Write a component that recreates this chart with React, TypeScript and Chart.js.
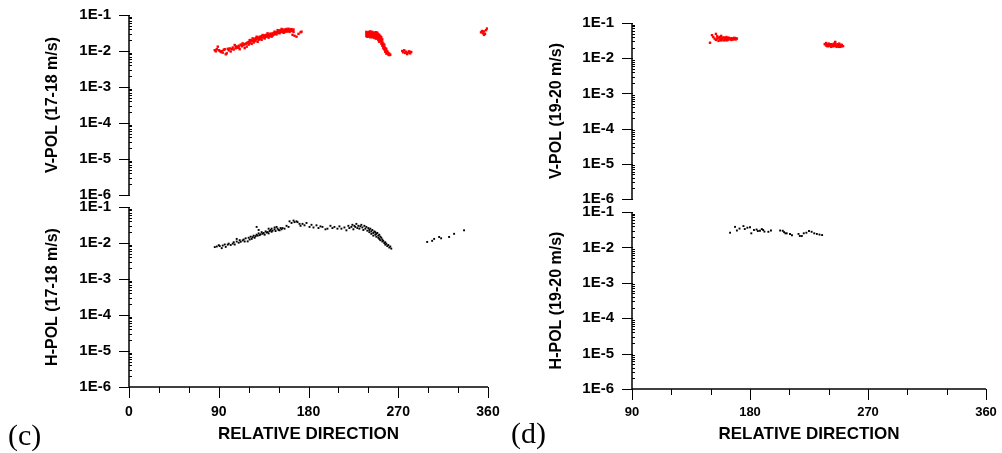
import React, { useEffect, useRef } from 'react';
import { Chart, registerables } from 'chart.js';

Chart.register(...registerables);

// ---------- tick definitions ----------
const Y_DECADES = [1e-6, 1e-5, 1e-4, 1e-3, 1e-2, 1e-1];
const Y_LABELS = ['1E-6', '1E-5', '1E-4', '1E-3', '1E-2', '1E-1'];
const Y_MINOR_MULT = [2, 3, 4, 5, 6, 7, 8, 9];

const X_TICKS_C = [0, 30, 60, 90, 120, 150, 180, 210, 240, 270, 300, 330, 360];
const X_TICKS_D = [90, 120, 150, 180, 210, 240, 270, 300, 330, 360];
const X_LABEL_VALUES = [0, 90, 180, 270, 360];
const X_LABELS = ['0', '90', '180', '270', '360'];

// ---------- data: [relative direction, value] ----------
const V_POL_17_18: number[][] = [
  [86, 0.0105], [87, 0.0098], [88, 0.0112], [89, 0.0132], [91, 0.0101], [92, 0.0094], [94, 0.009], [95, 0.0108],
  [97, 0.0081], [98, 0.0086], [99, 0.0115], [100, 0.0104], [101, 0.0118], [102, 0.0097], [104, 0.0125], [105, 0.011],
  [106, 0.0147], [107, 0.0119], [108, 0.0131], [109, 0.0123], [110, 0.014], [111, 0.0112], [112, 0.015], [113, 0.0135],
  [114, 0.0163], [115, 0.0144], [116, 0.012], [117, 0.0158], [118, 0.0132], [119, 0.0172], [120, 0.015], [121, 0.02],
  [121, 0.0168], [122, 0.0184], [123, 0.0158], [124, 0.0225], [124, 0.019], [125, 0.0172], [126, 0.021], [127, 0.0195],
  [128, 0.025], [128, 0.0218], [129, 0.018], [130, 0.0232], [131, 0.0215], [132, 0.0245], [133, 0.0205], [134, 0.0278],
  [134, 0.0238], [135, 0.026], [136, 0.0222], [137, 0.027], [138, 0.0248], [139, 0.031], [139, 0.0265], [140, 0.0235],
  [141, 0.029], [142, 0.0275], [143, 0.025], [144, 0.0305], [145, 0.0285], [146, 0.0345], [146, 0.03], [147, 0.032],
  [148, 0.029], [149, 0.038], [149, 0.033], [150, 0.035], [151, 0.031], [152, 0.0365], [153, 0.041], [153, 0.034],
  [154, 0.0375], [155, 0.032], [156, 0.036], [157, 0.0395], [158, 0.0345], [159, 0.038], [160, 0.0415], [161, 0.038],
  [161, 0.034], [162, 0.04], [163, 0.036], [164, 0.028], [165, 0.0395], [166, 0.0265], [168, 0.025], [170, 0.03],
  [172, 0.033], [173, 0.0345],
  [90, 0.0105], [93, 0.0099], [96, 0.0112], [103, 0.0113], [107, 0.0134], [110, 0.0126], [113, 0.0148], [116, 0.0155],
  [118, 0.0165], [120, 0.0178], [122, 0.0202], [123, 0.0192], [125, 0.0205], [126, 0.0188], [127, 0.0228], [129, 0.0235],
  [130, 0.0205], [131, 0.0248], [132, 0.0225], [133, 0.0258], [135, 0.0242], [136, 0.0272], [137, 0.0245], [138, 0.0285],
  [140, 0.0275], [141, 0.0258], [142, 0.0305], [143, 0.0282], [144, 0.0268], [145, 0.0318], [147, 0.0295], [148, 0.0335],
  [150, 0.0318], [151, 0.0375], [152, 0.0335], [154, 0.0345], [155, 0.0395], [156, 0.0335], [157, 0.0365], [158, 0.041],
  [159, 0.0355], [160, 0.0365], [162, 0.0375], [163, 0.0405], [164, 0.037], [165, 0.034],
  [238, 0.03], [238, 0.026], [239, 0.032], [239, 0.028], [240, 0.025], [240, 0.03], [241, 0.034], [241, 0.027],
  [242, 0.031], [242, 0.024], [243, 0.029], [243, 0.033], [244, 0.027], [244, 0.03], [245, 0.025], [245, 0.032],
  [246, 0.028], [246, 0.023], [247, 0.03], [247, 0.026], [248, 0.033], [248, 0.028], [248, 0.022], [249, 0.026],
  [249, 0.03], [250, 0.024], [250, 0.027], [250, 0.02], [251, 0.025], [251, 0.022], [251, 0.018], [252, 0.023],
  [252, 0.019], [253, 0.021], [253, 0.016], [253, 0.024], [254, 0.018], [254, 0.014], [255, 0.016], [255, 0.012],
  [256, 0.013], [256, 0.011], [257, 0.012], [257, 0.0095], [258, 0.01], [258, 0.0085], [259, 0.0092], [260, 0.008],
  [260, 0.0088], [261, 0.0077],
  [238, 0.034], [239, 0.025], [240, 0.033], [241, 0.03], [242, 0.035], [242, 0.028], [243, 0.026], [244, 0.034],
  [244, 0.024], [245, 0.029], [246, 0.031], [246, 0.026], [247, 0.033], [247, 0.023], [248, 0.025], [249, 0.032],
  [249, 0.023], [250, 0.029], [251, 0.028], [252, 0.026], [252, 0.021], [253, 0.019], [254, 0.021], [254, 0.016],
  [255, 0.014], [256, 0.015], [256, 0.0125], [257, 0.0105], [258, 0.0115], [259, 0.0098], [259, 0.0086], [261, 0.0084],
  [262, 0.0079],
  [274, 0.01], [275, 0.0092], [276, 0.0105], [277, 0.0088], [278, 0.0096], [279, 0.0082], [280, 0.009], [281, 0.0098],
  [282, 0.0086], [283, 0.0094],
  [353, 0.033], [354, 0.036], [355, 0.031], [356, 0.035], [357, 0.03], [358, 0.038], [359, 0.042], [356, 0.028],
];

const H_POL_17_18: number[][] = [
  [86, 0.0077], [88, 0.008], [90, 0.0087], [91, 0.0082], [93, 0.0072], [94, 0.0085], [96, 0.0091], [97, 0.0078],
  [99, 0.009], [100, 0.0096], [102, 0.0088], [104, 0.0096], [105, 0.0105], [106, 0.0091], [108, 0.013], [108, 0.011],
  [110, 0.0102], [111, 0.012], [112, 0.0108], [114, 0.0118], [115, 0.0125], [116, 0.011], [117, 0.0135], [119, 0.0111],
  [120, 0.014], [121, 0.0125], [122, 0.015], [123, 0.013], [124, 0.0145], [125, 0.016], [126, 0.014], [127, 0.0155],
  [128, 0.028], [128, 0.017], [129, 0.016], [130, 0.023], [130, 0.0185], [131, 0.0165], [132, 0.0175], [133, 0.02],
  [134, 0.018], [135, 0.019], [136, 0.017], [137, 0.021], [138, 0.0195], [139, 0.02], [140, 0.025], [140, 0.0185],
  [141, 0.0215], [142, 0.023], [143, 0.025], [143, 0.0205], [144, 0.022], [146, 0.024], [146, 0.027], [147, 0.0215],
  [148, 0.028], [149, 0.025], [150, 0.023], [151, 0.0225], [152, 0.026], [153, 0.024], [154, 0.026], [156, 0.025],
  [158, 0.03], [160, 0.028], [161, 0.04], [163, 0.036], [165, 0.042], [166, 0.038], [168, 0.04], [169, 0.038],
  [171, 0.034], [172, 0.03], [174, 0.034], [176, 0.031], [178, 0.036], [181, 0.028], [183, 0.032], [185, 0.027],
  [188, 0.031], [190, 0.026], [192, 0.029], [194, 0.028], [197, 0.024], [199, 0.025], [202, 0.03], [204, 0.026],
  [206, 0.028], [209, 0.025], [211, 0.029], [213, 0.025], [216, 0.027], [218, 0.0225], [220, 0.03], [221, 0.026],
  [223, 0.028], [224, 0.032], [225, 0.024], [226, 0.03], [227, 0.028], [228, 0.034], [229, 0.026], [230, 0.03],
  [231, 0.025], [232, 0.029], [233, 0.032], [234, 0.027], [235, 0.023], [236, 0.03], [237, 0.025], [238, 0.028],
  [239, 0.022], [240, 0.026], [241, 0.023], [241, 0.02], [242, 0.025], [243, 0.021], [243, 0.018], [244, 0.023],
  [245, 0.019], [245, 0.016], [246, 0.021], [247, 0.017], [247, 0.02], [248, 0.018], [248, 0.015], [249, 0.019],
  [250, 0.016], [250, 0.014], [251, 0.017], [251, 0.013], [252, 0.015], [252, 0.012], [253, 0.014], [254, 0.0125],
  [254, 0.011], [255, 0.0115], [256, 0.01], [257, 0.0105], [257, 0.009], [258, 0.0095], [259, 0.0082], [260, 0.0088],
  [261, 0.0075], [262, 0.008], [263, 0.007],
  [299, 0.0107], [304, 0.0115], [306, 0.013], [311, 0.0147], [313, 0.0135], [321, 0.0147], [326, 0.018], [336, 0.0225],
];

const V_POL_19_20: number[][] = [
  [149.5, 0.0275], [151, 0.045], [152, 0.04], [153, 0.036], [154, 0.049], [154, 0.033], [155, 0.042], [156, 0.038],
  [156, 0.031], [157, 0.04], [158, 0.036], [158, 0.043], [159, 0.034], [160, 0.039], [160, 0.032], [161, 0.037],
  [162, 0.035], [162, 0.04], [163, 0.033], [164, 0.036], [164, 0.038], [165, 0.034], [166, 0.037], [166, 0.033],
  [167, 0.036], [168, 0.035], [168, 0.038], [169, 0.034], [170, 0.036],
  [155, 0.036], [157, 0.034], [159, 0.038], [161, 0.034], [163, 0.038], [165, 0.036], [167, 0.034], [169, 0.037],
  [158, 0.032], [162, 0.032],
  [237, 0.025], [238, 0.023], [238, 0.027], [239, 0.024], [240, 0.022], [240, 0.026], [241, 0.023], [242, 0.025],
  [242, 0.021], [243, 0.024], [244, 0.022], [244, 0.026], [245, 0.023], [245, 0.029], [246, 0.024], [246, 0.021],
  [247, 0.022], [247, 0.025], [248, 0.023], [249, 0.021], [249, 0.024], [250, 0.022],
  [238, 0.025], [239, 0.022], [241, 0.025], [243, 0.022], [245, 0.026], [247, 0.024], [248, 0.021], [248, 0.026],
  [250, 0.024], [251, 0.022], [244, 0.024], [240, 0.024],
];

const H_POL_19_20: number[][] = [
  [164.8, 0.026], [168.6, 0.038], [170, 0.03], [172, 0.034], [175, 0.04], [176, 0.033], [178, 0.036], [180, 0.037],
  [181, 0.025], [183, 0.031], [185, 0.032], [186, 0.029], [187.6, 0.0295], [189, 0.033], [190, 0.031], [191, 0.028],
  [194, 0.0276], [196, 0.03], [203, 0.03], [205, 0.0295], [206, 0.027], [207, 0.025], [208, 0.025], [210.5, 0.024],
  [212, 0.022], [217, 0.024], [218, 0.021], [219.5, 0.021], [221, 0.025], [223, 0.026], [225, 0.029], [227, 0.0276],
  [229, 0.025], [231, 0.024], [233, 0.023], [235, 0.0223],
];

const FONT = 'Arial, "Liberation Sans", sans-serif';

const isDecade = (v: number) => Y_DECADES.some((d) => Math.abs(v / d - 1) < 1e-6);
const decadeLabel = (v: number) => {
  const i = Y_DECADES.findIndex((d) => Math.abs(v / d - 1) < 1e-6);
  return i >= 0 ? Y_LABELS[i] : '';
};
const xLabel = (v: number) => {
  const i = X_LABEL_VALUES.indexOf(v);
  return i >= 0 ? X_LABELS[i] : '';
};

const zeroPad = (s: any) => {
  s.paddingLeft = 0;
  s.paddingRight = 0;
  s.paddingTop = 0;
  s.paddingBottom = 0;
};

const axisPlugin = {
  id: 'axisDraw',
  afterDraw(chart: any, _args: any, opts: any) {
    const ctx = chart.ctx;
    const { left, right, top, bottom } = chart.chartArea;
    const ys = chart.scales.y;
    const xs = chart.scales.x;
    ctx.save();
    ctx.strokeStyle = '#000';
    ctx.lineWidth = 1.5;
    ctx.beginPath();
    ctx.moveTo(left, top);
    ctx.lineTo(left, bottom);
    ctx.stroke();
    ctx.lineWidth = 1;
    ys.ticks.forEach((t: any) => {
      const py = Math.round(ys.getPixelForValue(t.value)) + 0.5;
      ctx.beginPath();
      if (isDecade(t.value)) {
        ctx.moveTo(left - 10, py);
        ctx.lineTo(left + 1, py);
      } else {
        ctx.moveTo(left, py);
        ctx.lineTo(left + 3, py);
      }
      ctx.stroke();
    });
    if (opts.showX) {
      ctx.lineWidth = 1.5;
      ctx.beginPath();
      ctx.moveTo(left, bottom);
      ctx.lineTo(right, bottom);
      ctx.stroke();
      ctx.lineWidth = 1;
      xs.ticks.forEach((t: any) => {
        const px = Math.round(xs.getPixelForValue(t.value)) + 0.5;
        const major = X_LABEL_VALUES.indexOf(t.value) >= 0;
        ctx.beginPath();
        ctx.moveTo(px, bottom);
        ctx.lineTo(px, bottom + (major ? 11 : 6));
        ctx.stroke();
      });
    }
    ctx.restore();
  },
};

type PanelProps = {
  left: number; top: number; width: number; height: number;
  points: number[][]; color: string; radius: number; yTitle: string;
  xMin: number; xMax: number; xTicks: number[];
  showX: boolean; yAxisWidth: number; xAxisHeight: number;
  pad: { top: number; right: number; bottom: number };
  yTitlePad: number; xTickFont: number; xTickPad: number;
  xTitleFont: number; xTitlePad: number;
};

function Panel(p: PanelProps) {
  const ref = useRef<HTMLCanvasElement>(null);
  useEffect(() => {
    if (!ref.current) return;
    const chart = new Chart(ref.current, {
      type: 'scatter',
      data: {
        datasets: [
          {
            data: p.points.map(([x, y]) => ({ x, y })),
            backgroundColor: p.color,
            borderWidth: 0,
            pointStyle: 'rect',
            pointRadius: p.radius,
            pointHoverRadius: p.radius,
          },
        ],
      },
      options: {
        responsive: false,
        maintainAspectRatio: false,
        animation: false,
        events: [],
        layout: { padding: { left: 0, top: p.pad.top, right: p.pad.right, bottom: p.pad.bottom } },
        plugins: {
          legend: { display: false },
          tooltip: { enabled: false },
          axisDraw: { showX: p.showX },
        } as any,
        scales: {
          x: {
            type: 'linear',
            min: p.xMin,
            max: p.xMax,
            display: p.showX,
            afterBuildTicks: (s: any) => {
              s.ticks = p.xTicks.map((v) => ({ value: v }));
            },
            afterFit: (s: any) => {
              if (p.showX) s.height = p.xAxisHeight;
              zeroPad(s);
            },
            grid: { display: false, drawTicks: false },
            border: { display: false },
            ticks: {
              autoSkip: false,
              maxRotation: 0,
              padding: p.xTickPad,
              color: '#000',
              font: { family: FONT, size: p.xTickFont, weight: 'bold', lineHeight: 1.2 },
              callback: (v: any) => xLabel(Number(v)),
            },
            title: {
              display: p.showX,
              text: 'RELATIVE DIRECTION',
              color: '#000',
              font: { family: FONT, size: p.xTitleFont, weight: 'bold', lineHeight: 1.2 },
              padding: { top: 0, bottom: p.xTitlePad },
            },
          },
          y: {
            type: 'logarithmic',
            min: 1e-6,
            max: 1e-1,
            afterBuildTicks: (s: any) => {
              const t: any[] = [];
              Y_DECADES.forEach((d, i) => {
                t.push({ value: d });
                if (i < Y_DECADES.length - 1) Y_MINOR_MULT.forEach((m) => t.push({ value: d * m }));
              });
              s.ticks = t;
            },
            afterFit: (s: any) => {
              s.width = p.yAxisWidth;
              zeroPad(s);
            },
            grid: { display: false, drawTicks: false },
            border: { display: false },
            ticks: {
              autoSkip: false,
              padding: 18,
              color: '#000',
              font: { family: FONT, size: 15, weight: 'bold', lineHeight: 1 },
              callback: (v: any) => decadeLabel(Number(v)),
            },
            title: {
              display: true,
              text: p.yTitle,
              color: '#000',
              font: { family: FONT, size: 16, weight: 'bold', lineHeight: 1.2 },
              padding: { top: p.yTitlePad, bottom: 0 },
            },
          },
        },
      },
      plugins: [axisPlugin as any],
    });
    return () => chart.destroy();
  }, []);
  return (
    <canvas
      ref={ref}
      width={p.width}
      height={p.height}
      style={{ position: 'absolute', left: p.left, top: p.top, width: p.width, height: p.height }}
    />
  );
}

const tagStyle: React.CSSProperties = {
  position: 'absolute',
  fontFamily: '"Liberation Serif", "Times New Roman", serif',
  fontSize: 30,
  lineHeight: '30px',
  color: '#000',
  whiteSpace: 'nowrap',
};

export default function App() {
  return (
    <div style={{ position: 'absolute', left: 0, top: 0, width: 1002, height: 453, background: '#fff', overflow: 'hidden' }}>
      <Panel
        left={0} top={0} width={500} height={210}
        points={V_POL_17_18} color="#ff0000" radius={1.7} yTitle="V-POL (17-18 m/s)"
        xMin={0} xMax={360} xTicks={X_TICKS_C} showX={false}
        yAxisWidth={129} xAxisHeight={0} pad={{ top: 15, right: 12, bottom: 15 }}
        yTitlePad={43} xTickFont={14} xTickPad={17} xTitleFont={17} xTitlePad={8}
      />
      <Panel
        left={0} top={200} width={500} height={253}
        points={H_POL_17_18} color="#000000" radius={1.35} yTitle="H-POL (17-18 m/s)"
        xMin={0} xMax={360} xTicks={X_TICKS_C} showX={true}
        yAxisWidth={129} xAxisHeight={66} pad={{ top: 7, right: 12, bottom: 0 }}
        yTitlePad={43} xTickFont={14} xTickPad={17} xTitleFont={17} xTitlePad={8}
      />
      <Panel
        left={500} top={0} width={502} height={215}
        points={V_POL_19_20} color="#ff0000" radius={1.7} yTitle="V-POL (19-20 m/s)"
        xMin={90} xMax={360} xTicks={X_TICKS_D} showX={false}
        yAxisWidth={132} xAxisHeight={0} pad={{ top: 23, right: 16, bottom: 16 }}
        yTitlePad={47} xTickFont={13} xTickPad={16} xTitleFont={17} xTitlePad={8}
      />
      <Panel
        left={500} top={200} width={502} height={253}
        points={H_POL_19_20} color="#000000" radius={1.35} yTitle="H-POL (19-20 m/s)"
        xMin={90} xMax={360} xTicks={X_TICKS_D} showX={true}
        yAxisWidth={132} xAxisHeight={64} pad={{ top: 12, right: 16, bottom: 0 }}
        yTitlePad={47} xTickFont={13} xTickPad={16} xTitleFont={17} xTitlePad={8}
      />
      <div style={{ ...tagStyle, left: 8, top: 420 }}>(c)</div>
      <div style={{ ...tagStyle, left: 511, top: 418 }}>(d)</div>
    </div>
  );
}
